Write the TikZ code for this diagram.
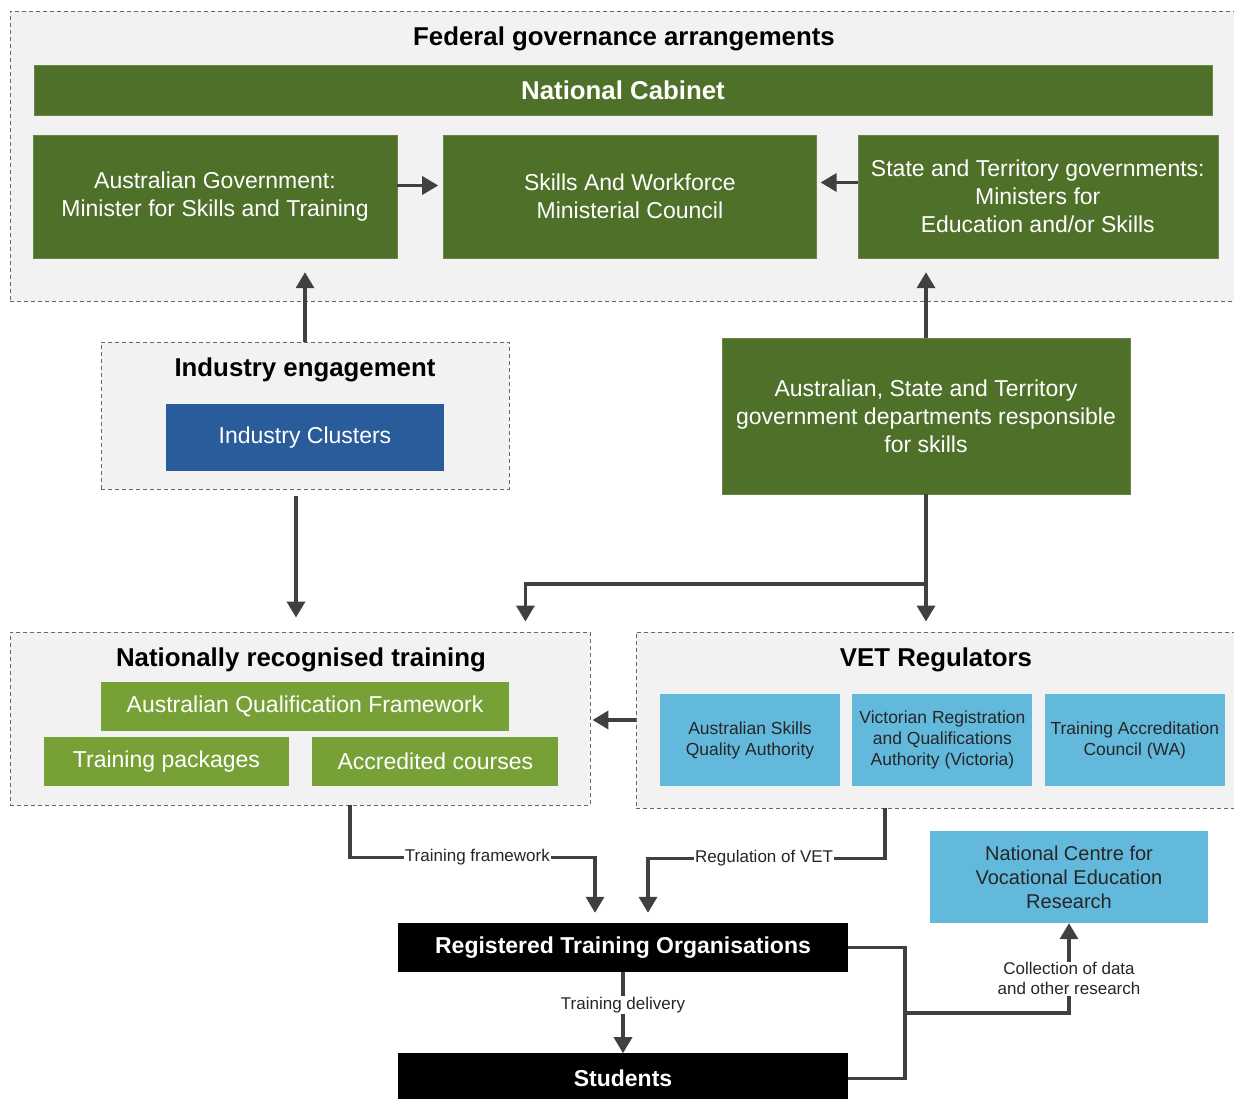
\documentclass[tikz,border=0pt]{standalone}
\usepackage{fontspec}
\setmainfont{Liberation Sans}
\usetikzlibrary{arrows.meta,calc,positioning}
\definecolor{govGreen}{HTML}{4E7029}
\definecolor{nrtGreen}{HTML}{77A136}
\definecolor{clusterBlue}{HTML}{2A5B9A}
\definecolor{regBlue}{HTML}{63B9DB}
\definecolor{panelGrey}{HTML}{F2F2F2}
\definecolor{lineGrey}{HTML}{404040}
\newcommand{\fsz}[2]{\fontsize{#1}{#2}\selectfont}

\tikzset{
  panel/.style={draw=black!60,dash pattern=on 4pt off 3pt,line width=0.9pt,fill=panelGrey,inner sep=0pt},
  head/.style={font=\fsz{25.8}{30}\bfseries,inner sep=0pt},
  govbox/.style={fill=govGreen,draw=govGreen!85!white,text=white,align=center,inner sep=0pt,font=\fsz{23}{28}},
  nrtbox/.style={fill=nrtGreen,text=white,align=center,inner sep=0pt,font=\fsz{23}{28},minimum height=49pt},
  regbox/.style={fill=regBlue,text=black!85,align=center,inner sep=0pt,font=\fsz{17.5}{21},minimum width=180pt,minimum height=92pt},
  darkbox/.style={fill=black,text=white,inner sep=0pt,font=\fsz{23}{28}\bfseries,minimum width=450pt},
  link/.style={draw=lineGrey,line width=3.5pt},
  conn/.style={link,-{Triangle[width=18pt,length=16pt]}},
  lbl/.style={fill=white,inner sep=1pt,text=black!85,font=\fsz{17}{20},align=center}
}

\begin{document}
\begin{tikzpicture}[x=1pt,y=-1pt]
  \useasboundingbox (0,0) rectangle (1234,1099);

  % federal governance
  \node[panel,minimum width=1228pt,minimum height=290pt] (fed) at (624,156) {};
  \node[head] (fedtitle) at (624,38.5) {Federal governance arrangements};
  \node[govbox,minimum width=1178pt,minimum height=50pt,font=\fsz{25.8}{30}\bfseries] (cabinet) at (623,90) {National Cabinet};
  \node[govbox,minimum width=364pt,minimum height=123pt] (ausgov) at (215,196.5) {Australian Government:\\Minister for Skills and Training};
  \node[govbox,minimum width=373pt,minimum height=123pt,right=46pt of ausgov] (council) {Skills And Workforce\\Ministerial Council};
  \node[govbox,minimum width=360pt,minimum height=123pt,right=41pt of council] (states) {State and Territory governments:\\Ministers for\\Education and/or Skills};

  % industry and departments
  \node[panel,minimum width=408pt,minimum height=147pt] (industry) at (305,415.5) {};
  \node[head] (indtitle) at (305,370) {Industry engagement};
  \node[fill=clusterBlue,text=white,inner sep=0pt,font=\fsz{23}{28},minimum width=278pt,minimum height=67pt] (clusters) at (305,437.5) {Industry Clusters};
  \node[govbox,minimum width=408pt,minimum height=156pt] (depts) at (926,416) {Australian, State and Territory\\government departments responsible\\for skills};

  % nationally recognised training
  \node[panel,minimum width=580pt,minimum height=173pt] (nrt) at (300,718.5) {};
  \node[head] (nrttitle) at (301,660) {Nationally recognised training};
  \node[nrtbox,minimum width=408pt] (aqf) at (305,706.5) {Australian Qualification Framework};
  \node[nrtbox,minimum width=245pt] (packages) at (166.5,761.5) {Training packages};
  \node[nrtbox,minimum width=246pt,right=23pt of packages] (courses) {Accredited courses};

  % regulators
  \node[panel,minimum width=604pt,minimum height=176pt] (vet) at (938,720) {};
  \node[head] (vettitle) at (936,660) {VET Regulators};
  \node[regbox] (asqa) at (750,740) {Australian Skills\\Quality Authority};
  \node[regbox,right=12pt of asqa] (vrqa) {Victorian Registration\\and Qualifications\\Authority (Victoria)};
  \node[regbox,right=12pt of vrqa] (tac) {Training Accreditation\\Council (WA)};

  \node[regbox,minimum width=278pt,font=\fsz{20}{24}] (ncver) at (1069,877) {National Centre for\\Vocational Education\\Research};
  \node[darkbox,minimum height=49pt] (rto) at (623,947.5) {Registered Training Organisations};
  \node[darkbox,minimum height=50pt,below=81pt of rto] (students) {Students};

  % connectors
  \draw[conn,shorten >=5pt] ([yshift=11pt]ausgov.east) -- ([yshift=11pt]council.west);
  \draw[conn,shorten >=4pt] ([yshift=14pt]states.west) -- ([yshift=14pt]council.east);
  \draw[conn,shorten >=14pt] (industry.north) -- (industry.north |- ausgov.south);
  \draw[conn,shorten >=14pt] (depts.north) -- (depts.north |- states.south);
  \draw[conn,shorten <=7pt,shorten >=14pt] ([xshift=-9pt]industry.south) -- ([xshift=-9pt]industry.south |- nrt.north);
  \draw[conn,shorten >=10pt] (depts.south) -- (depts.south |- vet.north);
  \coordinate (split) at ($(depts.south)+(0,-90pt)$);
  \draw[conn,shorten >=10pt] (split) -| ([xshift=-65pt]nrt.north east);
  \draw[conn,shorten >=2pt] (vet.west) -- (vet.west -| nrt.east);

  \draw[conn,shorten >=10pt] ([xshift=50pt]nrt.south) -- ++(0,-52pt)
    -| node[lbl,pos=0.26] {Training framework} ([xshift=-28pt]rto.north);
  \draw[conn,shorten >=10pt] ([xshift=-53pt]vet.south) -- ++(0,-50pt)
    -| node[lbl,pos=0.255] {Regulation of VET} ([xshift=25pt]rto.north);
  \draw[conn] (rto.south) -- node[lbl,pos=0.4] {Training delivery} (students.north);

  \coordinate (bracket) at ($(rto.east)+(57pt,0)$);
  \draw[link] (rto.east) -- (bracket) |- (students.east);
  \path (bracket) -- (bracket |- students.east) coordinate[pos=0.5] (tap);
  \draw[conn] (tap) -| node[lbl,pos=0.69] {Collection of data\\and other research} (ncver.south);
\end{tikzpicture}
\end{document}
